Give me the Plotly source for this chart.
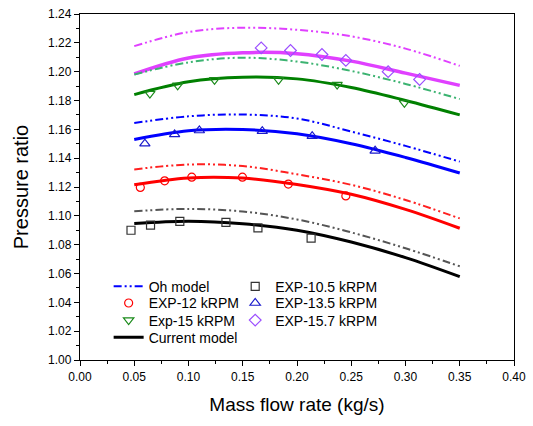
import plotly.graph_objects as go

# model curves (x in kg/s)
x_model = [0.05, 0.10, 0.15, 0.20, 0.25, 0.30, 0.35]
oh_157 = [1.2177, 1.2275, 1.2305, 1.2290, 1.2245, 1.2160, 1.2040]
cur_157 = [1.1984, 1.2095, 1.2131, 1.2125, 1.2073, 1.1990, 1.1905]
oh_15 = [1.1980, 1.2065, 1.2097, 1.2070, 1.2005, 1.1915, 1.1810]
cur_15 = [1.1841, 1.1930, 1.1961, 1.1950, 1.1890, 1.1800, 1.1700]
oh_135 = [1.1644, 1.1690, 1.1703, 1.1675, 1.1585, 1.1485, 1.1376]
cur_135 = [1.1530, 1.1590, 1.1599, 1.1569, 1.1500, 1.1405, 1.1297]
oh_12 = [1.1322, 1.1356, 1.1345, 1.1288, 1.1215, 1.1110, 1.0982]
cur_12 = [1.1215, 1.1263, 1.1262, 1.1218, 1.1150, 1.1045, 1.0914]
oh_105 = [1.1032, 1.1048, 1.1030, 1.0975, 1.0885, 1.0775, 1.0650]
cur_105 = [1.0946, 1.0962, 1.0945, 1.0900, 1.0818, 1.0710, 1.0578]

# experimental points
exp105_x = [0.047, 0.065, 0.092, 0.1345, 0.164, 0.213]
exp105_y = [1.0900, 1.0936, 1.0961, 1.0954, 1.0916, 1.0846]
exp12_x = [0.0556, 0.078, 0.103, 0.1497, 0.192, 0.245]
exp12_y = [1.1197, 1.1243, 1.1268, 1.1268, 1.1220, 1.1138]
exp135_x = [0.0598, 0.0872, 0.110, 0.168, 0.214, 0.272]
exp135_y = [1.1501, 1.1565, 1.1592, 1.1587, 1.1553, 1.1451]
exp15_x = [0.0644, 0.090, 0.124, 0.183, 0.237, 0.299]
exp15_y = [1.1848, 1.1905, 1.1943, 1.1943, 1.1910, 1.1784]
exp157_x = [0.167, 0.194, 0.223, 0.245, 0.284, 0.313]
exp157_y = [1.2165, 1.2147, 1.2119, 1.2078, 1.2000, 1.1946]

DDD = "8px,3px,2px,3px,2px,3px"

fig = go.Figure()

def model(y, color, dash, width, name=None, legend=None):
    fig.add_trace(go.Scatter(
        x=x_model, y=y, mode="lines", line=dict(color=color, dash=dash, width=width, shape="spline"),
        name=name, showlegend=name is not None, legend=legend))

def exp(x, y, sym, color, size, name, legend):
    fig.add_trace(go.Scatter(
        x=x, y=y, mode="markers", name=name, legend=legend,
        marker=dict(symbol=sym, size=size, color=color, line=dict(color=color, width=1.2))))

# non-legend model curves
model(oh_157, "#e040ff", DDD, 2)
model(cur_157, "#e040ff", "solid", 3.5)
model(oh_15, "#3cb371", DDD, 2)
model(cur_15, "#008000", "solid", 3)
model(cur_135, "#0000ff", "solid", 3)
model(oh_12, "#ff2020", DDD, 2)
model(cur_12, "#ff0000", "solid", 3)
model(oh_105, "#555555", DDD, 2)

# legend entries (one legend per entry for exact placement)
model(oh_135, "#0000ff", DDD, 2, name="Oh model", legend="legend")
exp(exp12_x, exp12_y, "circle-open", "#ff0000", 8, "EXP-12 kRPM", "legend2")
exp(exp15_x, exp15_y, "triangle-down-open", "#1a8a1a", 9, "Exp-15 kRPM", "legend3")
model(cur_105, "#000000", "solid", 3, name="Current model", legend="legend4")
exp(exp105_x, exp105_y, "square-open", "#333333", 8, "EXP-10.5 kRPM", "legend5")
exp(exp135_x, exp135_y, "triangle-up-open", "#1a1acc", 9, "EXP-13.5 kRPM", "legend6")
exp(exp157_x, exp157_y, "diamond-open", "#9b4dff", 9, "EXP-15.7 kRPM", "legend7")

font_family = "Liberation Sans, Arial, sans-serif"
axis_common = dict(
    showline=True, linecolor="black", linewidth=1.3, mirror=True,
    ticks="outside", ticklen=5, tickwidth=1, tickcolor="black",
    showgrid=False, zeroline=False,
    tickfont=dict(size=12, color="black", family=font_family),
)

col1_x, col2_x = 0.066, 0.3576
rows_y = [0.2118, 0.1636, 0.1141, 0.0645]

def leg(x, y):
    return dict(x=x, y=y, xanchor="left", yanchor="middle", bgcolor="rgba(0,0,0,0)",
                font=dict(size=14, color="black"), itemwidth=30)

fig.update_layout(
    width=533, height=426,
    margin=dict(l=80, r=14, t=7, b=66),
    paper_bgcolor="white", plot_bgcolor="white",
    font=dict(family=font_family, color="black"),
    xaxis=dict(range=[0, 0.4], dtick=0.05, tickformat=".2f",
               minor=dict(ticks="outside", ticklen=3, dtick=0.025, tickcolor="black"),
               title=dict(text="Mass flow rate (kg/s)", font=dict(size=19), standoff=15),
               **axis_common),
    yaxis=dict(range=[1.0, 1.24], dtick=0.02, tickformat=".2f",
               minor=dict(ticks="outside", ticklen=3, dtick=0.01, tickcolor="black"),
               title=dict(text="Pressure ratio", font=dict(size=20), standoff=14),
               **axis_common),
    legend=leg(col1_x, rows_y[0]),
    legend2=leg(col1_x, rows_y[1]),
    legend3=leg(col1_x, rows_y[2]),
    legend4=leg(col1_x, rows_y[3]),
    legend5=leg(col2_x, rows_y[0]),
    legend6=leg(col2_x, rows_y[1]),
    legend7=leg(col2_x, rows_y[2]),
)

fig.write_html("out.html", config={"displayModeBar": False},
               post_script="document.body.style.margin='0px';")
